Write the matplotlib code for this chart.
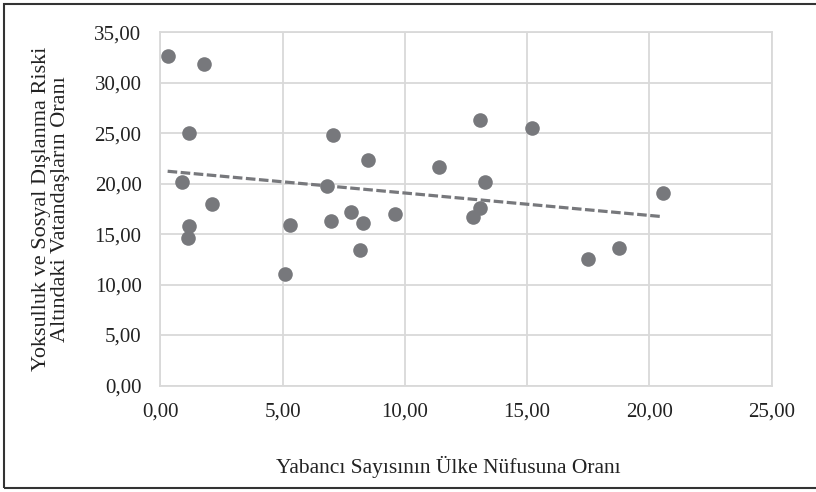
import numpy as np
import matplotlib
matplotlib.use('Agg')
import matplotlib.pyplot as plt
from matplotlib import rc
from matplotlib.patches import Rectangle
from matplotlib.ticker import FuncFormatter

rc('font', **{'family': 'Liberation Serif', 'size': 15})

# yabanci sayisinin ulke nufusuna orani (x) / yoksulluk riski orani (y)
yabanci = [0.30, 1.80, 1.19, 7.08, 8.48, 11.40, 0.89, 6.80, 2.10, 1.19,
           1.12, 5.29, 6.98, 7.79, 8.29, 9.59, 8.18, 5.09, 13.08, 15.19,
           13.28, 20.57, 13.08, 12.78, 17.48, 18.77]
yoksulluk = [32.7, 31.9, 25.0, 24.8, 22.3, 21.7, 20.2, 19.8, 18.0, 15.8,
             14.6, 15.95, 16.35, 17.2, 16.15, 17.0, 13.4, 11.0, 26.3, 25.5,
             20.2, 19.1, 17.6, 16.7, 12.5, 13.6]

xticks = [0, 5, 10, 15, 20, 25]
yticks = [0, 5, 10, 15, 20, 25, 30, 35]

pt_color = '#77787c'
grid_color = '#d9d9d9'
W, H = 816, 492

fig = plt.figure(figsize=(W / 100, H / 100), dpi=100)
ax = fig.add_axes([160.3 / W, 1 - 385.5 / H, 611.2 / W, 353.2 / H])

ax.scatter(yabanci, yoksulluk, s=10.5**2, color=pt_color, zorder=3, linewidths=0)

# dogrusal egilim cizgisi
x = np.array(yabanci)
k, b = np.polyfit(x, np.array(yoksulluk), 1)
xx = np.array([x.min(), x.max()])
ax.plot(xx, k * xx + b, '--', color=pt_color, lw=2.3, dashes=(3.0, 1.1), zorder=2)

ax.set_xlim(0, 25)
ax.set_ylim(0, 35)
ax.set_xticks(xticks)
ax.set_yticks(yticks)
fmt = FuncFormatter(lambda v, p: ('%.2f' % v).replace('.', ','))
ax.xaxis.set_major_formatter(fmt)
ax.yaxis.set_major_formatter(fmt)
ax.tick_params(length=0, labelsize=15, colors='#222222')
ax.tick_params(axis='x', pad=12)
ax.tick_params(axis='y', pad=13.5)
ax.grid(True, color=grid_color, lw=1.3)
ax.set_axisbelow(True)
for s in ax.spines.values():
    s.set_color(grid_color)
    s.set_linewidth(1.3)

fig.text(51 / W, 1 - 209 / H,
         'Yoksulluk ve Sosyal Dışlanma Riski\nAltındaki Vatandaşların Oranı',
         rotation=90, ha='center', va='center', fontsize=16, linespacing=1.0,
         color='#222222')
fig.text(448 / W, 1 - 467 / H, 'Yabancı Sayısının Ülke Nüfusuna Oranı',
         ha='center', va='center', fontsize=15.5, color='#222222')

# cerceve (sag kenar gorunmuyor)
fig.patches.append(Rectangle((3.5 / W, 4.5 / H), 830 / W, 484 / H,
                             transform=fig.transFigure, fill=False,
                             edgecolor='#333333', lw=1.5))

fig.savefig('out.png', dpi=100)
